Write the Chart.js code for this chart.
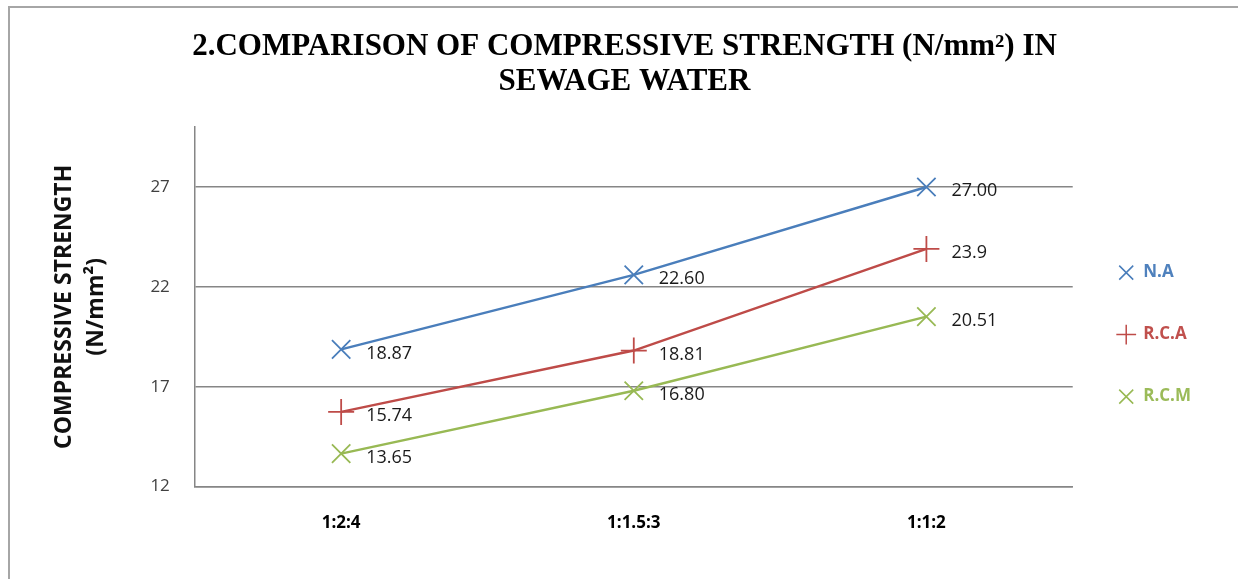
<!DOCTYPE html>
<html>
<head>
<meta charset="utf-8">
<title>Compressive strength in sewage water</title>
<script src="https://cdn.jsdelivr.net/npm/chart.js@4.4.0/dist/chart.umd.min.js"></script>
<style>
  html, body { margin: 0; padding: 0; background: #fff; }
  #wrap { position: relative; width: 1238px; height: 579px; overflow: hidden; }
  #frame { position: absolute; left: 8px; top: 6px; right: 0; bottom: 0;
           border-top: 2px solid #a6a6a6; border-left: 2px solid #a6a6a6; pointer-events: none; }
  canvas { position: absolute; left: 0; top: 0; }
</style>
</head>
<body>
<div id="wrap">
  <canvas id="strengthChart" width="1238" height="579"></canvas>
  <div id="frame"></div>
</div>
<script>
const mixRatios = ["1:2:4", "1:1.5:3", "1:1:2"];
const naValues = [18.87, 22.60, 27.00];
const rcaValues = [15.74, 18.81, 23.9];
const rcmValues = [13.65, 16.80, 20.51];
const naLabels = ["18.87", "22.60", "27.00"];
const rcaLabels = ["15.74", "18.81", "23.9"];
const rcmLabels = ["13.65", "16.80", "20.51"];
const yTicks = [12, 17, 22, 27];

const colors = { na: "#4a7ebb", rca: "#be4b48", rcm: "#98b954" };
const textColors = { na: "#4f81bd", rca: "#c0504d", rcm: "#9bbb59" };

// value labels to the right of every point
const valueLabels = {
  id: "valueLabels",
  afterDatasetsDraw(chart) {
    const ctx = chart.ctx;
    ctx.save();
    ctx.font = "18px 'Open Sans'";
    ctx.fillStyle = "#1a1a1a";
    ctx.textBaseline = "middle";
    ctx.textAlign = "left";
    chart.data.datasets.forEach((ds, i) => {
      chart.getDatasetMeta(i).data.forEach((pt, j) => {
        ctx.fillText(ds.valueText[j], pt.x + 25, pt.y + 4);
      });
    });
    ctx.restore();
  }
};

function makeSeries(label, data, text, key, style) {
  return {
    label, data, valueText: text,
    borderColor: colors[key],
    backgroundColor: colors[key],
    textColor: textColors[key],
    borderWidth: 2.5,
    pointStyle: style,
    pointRadius: 13,
    pointBorderWidth: 1.8,
    pointHoverRadius: 13,
    tension: 0
  };
}

new Chart(document.getElementById("strengthChart"), {
  type: "line",
  data: {
    labels: mixRatios,
    datasets: [
      makeSeries("N.A", naValues, naLabels, "na", "crossRot"),
      makeSeries("R.C.A", rcaValues, rcaLabels, "rca", "cross"),
      makeSeries("R.C.M", rcmValues, rcmLabels, "rcm", "crossRot")
    ]
  },
  options: {
    responsive: false,
    devicePixelRatio: 1,
    animation: false,
    layout: { padding: { left: 48, right: 37, top: 10, bottom: 20 } },
    plugins: {
      title: {
        display: true,
        text: ["2.COMPARISON OF COMPRESSIVE STRENGTH (N/mm²) IN", "SEWAGE WATER"],
        font: { family: "'Liberation Serif'", size: 31, weight: "bold", lineHeight: 1.13 },
        color: "#000",
        padding: { top: 19, bottom: 28 }
      },
      legend: {
        position: "right",
        title: { display: true, text: " ", font: { size: 16 }, padding: { top: 0, bottom: 81 } },
        labels: {
          usePointStyle: true,
          boxHeight: 14,
          padding: 45,
          font: { family: "'Open Sans'", size: 17, weight: "bold" },
          generateLabels(chart) {
            const items = Chart.defaults.plugins.legend.labels.generateLabels(chart);
            items.forEach(it => { it.fontColor = chart.data.datasets[it.datasetIndex].textColor; it.lineWidth = 1.5; });
            return items;
          }
        }
      },
      tooltip: { enabled: false }
    },
    scales: {
      x: {
        offset: true,
        grid: { display: false, drawTicks: false, offset: true },
        border: { color: "#868686", width: 1.5 },
        ticks: { color: "#000", padding: 26, font: { family: "'Open Sans'", size: 17, weight: "bold" } }
      },
      y: {
        min: 12,
        max: 30,
        afterBuildTicks(scale) { scale.ticks = yTicks.map(v => ({ value: v })); },
        grid: { color: "#868686", lineWidth: 1.5, drawTicks: false },
        border: { color: "#868686", width: 1.5 },
        ticks: { color: "#404040", padding: 25, font: { family: "'Open Sans'", size: 17 } },
        title: {
          display: true,
          text: ["COMPRESSIVE STRENGTH", "(N/mm²)"],
          color: "#111",
          font: { family: "'Open Sans'", size: 23, weight: "bold", lineHeight: 1.4 },
          padding: { top: 0, bottom: 13 }
        }
      }
    }
  },
  plugins: [valueLabels]
});
</script>
</body>
</html>
